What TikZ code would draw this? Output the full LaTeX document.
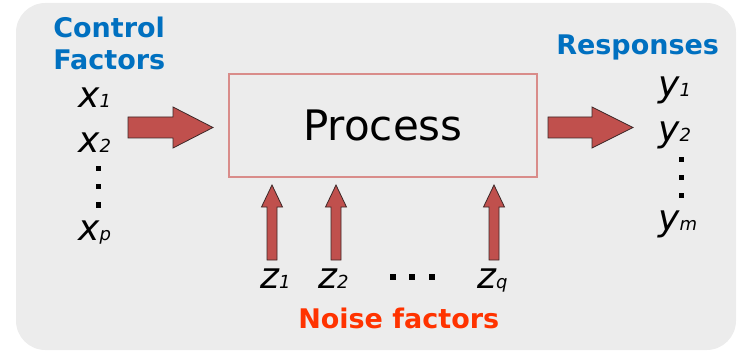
\documentclass[tikz,border=0pt]{standalone}
\usepackage{fontspec}
\setmainfont{DejaVu Sans}
\newfontfamily\obl{DejaVu Sans Oblique}
\definecolor{bgg}{RGB}{236,236,236}
\definecolor{ttlblue}{RGB}{0,112,192}
\definecolor{noisered}{RGB}{255,51,0}
\definecolor{arrfill}{RGB}{192,80,77}
\definecolor{arredge}{RGB}{60,40,40}
\definecolor{boxedge}{RGB}{217,140,138}
\newcommand{\mainv}{\obl\fontsize{27pt}{27pt}\selectfont}
\newcommand{\subv}{\obl\fontsize{13.5pt}{13.5pt}\selectfont}
\newcommand{\vv}[2]{{\mainv #1}{\subv #2}}
\begin{document}
\begin{tikzpicture}[x=0.75pt,y=-0.75pt,
  lbl/.style={inner sep=0pt,anchor=base west},
  ttl/.style={lbl,text=ttlblue,font=\bfseries\fontsize{20.25pt}{20.25pt}\selectfont},
  blockarrow/.style={fill=arrfill,draw=arredge,line width=0.6pt,line join=miter},
  dotsq/.style={fill=black,draw=none}]
\useasboundingbox (0,0) rectangle (740,353);
% background panel
\fill[bgg,rounded corners=22] (16,3) rectangle (736,350);
% titles
\node[ttl] (ctl) at (53,38) {Control};
\node[ttl] (fac) at (53,70) {Factors};
\node[ttl] (resp) at (556,55) {Responses};
\node[lbl,text=noisered,font=\bfseries\fontsize{20.25pt}{20.25pt}\selectfont] (noise) at (298,328) {Noise factors};
% process box
\node[draw=boxedge,line width=0.8pt,minimum width=231pt,minimum height=77.25pt,inner sep=0pt,
      font=\fontsize{31.5pt}{31.5pt}\selectfont] (proc) at (383,125.5) {Process};
% control factors
\node[lbl] (x1) at (78,108) {\vv{x}{1}};
\node[lbl] (x2) at (78,153) {\vv{x}{2}};
\node[lbl] (xp) at (78,240) {\vv{x}{p}};
\foreach \yy in {169,187,205} \fill[dotsq] (95.5,\yy-2.5) rectangle (100.5,\yy+2.5);
% responses
\node[lbl] (y1) at (658,97) {\vv{y}{1}};
\node[lbl] (y2) at (658,142) {\vv{y}{2}};
\node[lbl] (ym) at (658,230) {\vv{y}{m}};
\foreach \yy in {160,178,196} \fill[dotsq] (678.5,\yy-2.5) rectangle (683.5,\yy+2.5);
% noise factors
\node[lbl] (z1) at (260,288) {\vv{z}{1}};
\node[lbl] (z2) at (318,288) {\vv{z}{2}};
\node[lbl] (zq) at (477,288) {\vv{z}{q}};
\foreach \xx in {393,412,432} \fill[dotsq] (\xx-3,274) rectangle (\xx+3,280);
% block arrows right
\draw[blockarrow] (128,117) -- (173,117) -- (173,107) -- (213,127.5) -- (173,148) -- (173,138) -- (128,138) -- cycle;
\draw[blockarrow] (548,117) -- (592,117) -- (592,107) -- (633,127.5) -- (592,148) -- (592,138) -- (548,138) -- cycle;
% block arrows up
\foreach \cx in {272,336,494}
  \draw[blockarrow] (\cx-5,260) -- (\cx-5,207) -- (\cx-10.5,207) -- (\cx,185) -- (\cx+10.5,207) -- (\cx+5,207) -- (\cx+5,260) -- cycle;
\end{tikzpicture}
\end{document}
